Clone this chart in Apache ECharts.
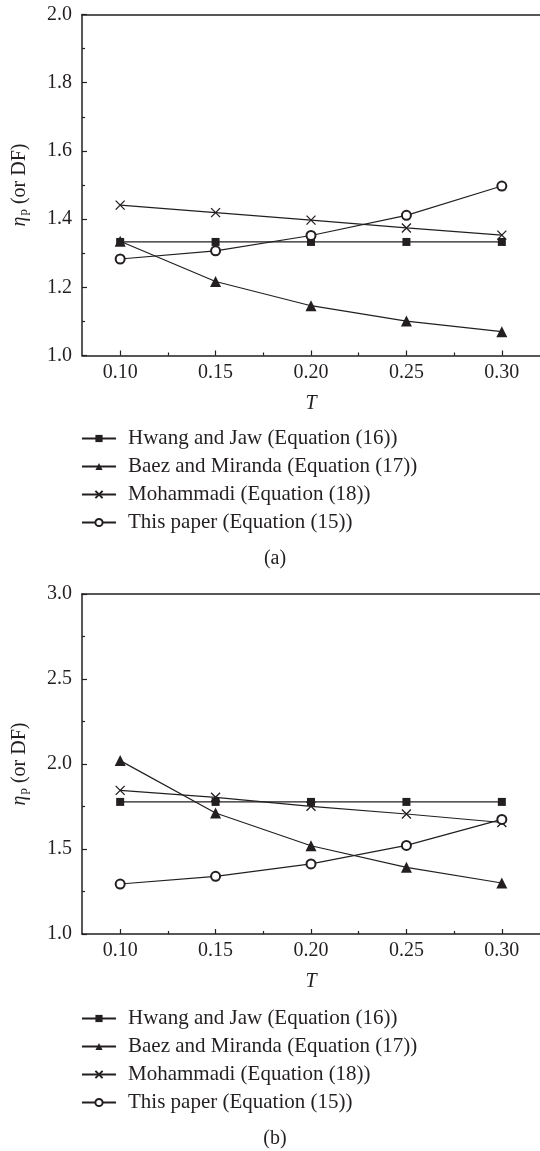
<!DOCTYPE html>
<html>
<head>
<meta charset="utf-8">
<script src="https://cdn.jsdelivr.net/npm/echarts@6/dist/echarts.min.js"></script>
<style>
html,body{margin:0;padding:0;background:#fff;}
#chart{width:540px;height:1151px;}
</style>
</head>
<body>
<div id="chart"></div>
<script>
// ---- data ----
const T = [0.10, 0.15, 0.20, 0.25, 0.30];
const xTickLabels = [0.10, 0.15, 0.20, 0.25, 0.30];
const xMinorTicks = [0.125, 0.175, 0.225, 0.275];
const seriesNames = [
  'Hwang and Jaw (Equation (16))',
  'Baez and Miranda (Equation (17))',
  'Mohammadi (Equation (18))',
  'This paper (Equation (15))'
];
// panel (a)
const a_hwang = [1.333, 1.333, 1.333, 1.333, 1.333];
const a_baez = [1.335, 1.217, 1.146, 1.101, 1.070];
const a_moham = [1.441, 1.419, 1.397, 1.374, 1.353];
const a_paper = [1.283, 1.307, 1.352, 1.411, 1.497];
// panel (b)
const b_hwang = [1.777, 1.777, 1.777, 1.777, 1.777];
const b_baez = [2.02, 1.712, 1.519, 1.392, 1.300];
const b_moham = [1.845, 1.804, 1.751, 1.706, 1.656];
const b_paper = [1.294, 1.339, 1.412, 1.521, 1.674];

const INK = '#231f20';
const FONT = '"Liberation Serif", "DejaVu Serif", serif';

const chart = echarts.init(document.getElementById('chart'), null, {renderer: 'canvas'});

const pair = (ys) => T.map((t, i) => [t, ys[i]]);

const crossPath = 'path://M0,0L10,10M10,0L0,10';
const styles = [
  {symbol: 'rect', symbolSize: 8, itemStyle: {color: INK}},
  {symbol: 'triangle', symbolSize: 11, itemStyle: {color: INK}},
  {symbol: crossPath, symbolSize: 9, itemStyle: {color: 'none', borderColor: INK, borderWidth: 1.3}},
  {symbol: 'emptyCircle', symbolSize: 9, itemStyle: {color: INK, borderWidth: 1.2}}
];

function mkSeries(dataArr, xi, yi) {
  return dataArr.map((d, k) => Object.assign({
    name: seriesNames[k],
    type: 'line',
    xAxisIndex: xi,
    yAxisIndex: yi,
    data: pair(d),
    lineStyle: {color: INK, width: 1.2},
    showSymbol: true,
    animation: false,
    z: 2 + k
  }, styles[k]));
}

const grids = [
  {left: 82, right: 0, top: 14.5, height: 341},
  {left: 82, right: 0, top: 594, height: 340}
];

function xAxes(gi) {
  return [
    {
      type: 'value', gridIndex: gi, min: 0.08, max: 0.32, position: 'bottom',
      name: 'T', nameLocation: 'middle', nameGap: 38,
      nameTextStyle: {fontFamily: FONT, fontSize: 20, fontStyle: 'italic', color: INK},
      axisLine: {show: true, lineStyle: {color: INK, width: 1.5}},
      axisTick: {show: true, inside: true, length: 5, customValues: xTickLabels, lineStyle: {color: INK, width: 1.2}},
      axisLabel: {customValues: xTickLabels, formatter: v => v.toFixed(2), fontFamily: FONT, fontSize: 20, color: INK, margin: 7},
      splitLine: {show: false}
    },
    {
      type: 'value', gridIndex: gi, min: 0.08, max: 0.32, position: 'bottom',
      axisLine: {show: false},
      axisTick: {show: true, inside: true, length: 3, customValues: xMinorTicks, lineStyle: {color: INK, width: 1.2}},
      axisLabel: {show: false},
      splitLine: {show: false}
    },
    {
      type: 'value', gridIndex: gi, min: 0.08, max: 0.32, position: 'top',
      axisLine: {show: true, lineStyle: {color: INK, width: 1.5}},
      axisTick: {show: false},
      axisLabel: {show: false},
      splitLine: {show: false}
    }
  ];
}

function yAxis(gi, min, max, interval) {
  return {
    type: 'value', gridIndex: gi, min: min, max: max, interval: interval,
    name: '{eta|η}{sub|p}{rest| (or DF)}',
    nameLocation: 'middle', nameGap: 52, nameRotate: 90,
    nameTextStyle: {
      color: INK, fontFamily: FONT, fontSize: 20,
      rich: {
        eta: {fontFamily: FONT, fontSize: 20, fontStyle: 'italic', color: INK, lineHeight: 22, verticalAlign: 'bottom'},
        sub: {fontFamily: FONT, fontSize: 13, color: INK, lineHeight: 13, verticalAlign: 'bottom', padding: [0, 0, 0, 1]},
        rest: {fontFamily: FONT, fontSize: 20, color: INK, lineHeight: 22, verticalAlign: 'bottom'}
      }
    },
    axisLine: {show: true, lineStyle: {color: INK, width: 1.5}},
    axisTick: {show: true, inside: true, length: 5, lineStyle: {color: INK, width: 1.2}},
    minorTick: {show: true, splitNumber: 2, length: 3, lineStyle: {color: INK, width: 1.2}},
    axisLabel: {formatter: v => v.toFixed(1), fontFamily: FONT, fontSize: 20, color: INK, margin: 10},
    splitLine: {show: false},
    minorSplitLine: {show: false}
  };
}

function legend(top) {
  return {
    orient: 'vertical', left: 81, top: top, padding: 0,
    data: seriesNames,
    itemWidth: 34, itemHeight: 9, itemGap: 7,
    selectedMode: false,
    textStyle: {fontFamily: FONT, fontSize: 21, color: INK, lineHeight: 21, padding: [0, 0, 0, 7]}
  };
}

const option = {
  backgroundColor: '#fff',
  animation: false,
  grid: grids,
  xAxis: xAxes(0).concat(xAxes(1)),
  yAxis: [yAxis(0, 1.0, 2.0, 0.2), yAxis(1, 1.0, 3.0, 0.5)],
  legend: [legend(428), legend(1008)],
  series: mkSeries([a_hwang, a_baez, a_moham, a_paper], 0, 0)
    .concat(mkSeries([b_hwang, b_baez, b_moham, b_paper], 3, 1)),
  graphic: [
    {type: 'text', x: 275, y: 559, style: {text: '(a)', font: '20px ' + FONT, fill: INK, textAlign: 'center', textVerticalAlign: 'middle'}},
    {type: 'text', x: 275, y: 1139, style: {text: '(b)', font: '20px ' + FONT, fill: INK, textAlign: 'center', textVerticalAlign: 'middle'}}
  ]
};
chart.setOption(option);
</script>
</body>
</html>
